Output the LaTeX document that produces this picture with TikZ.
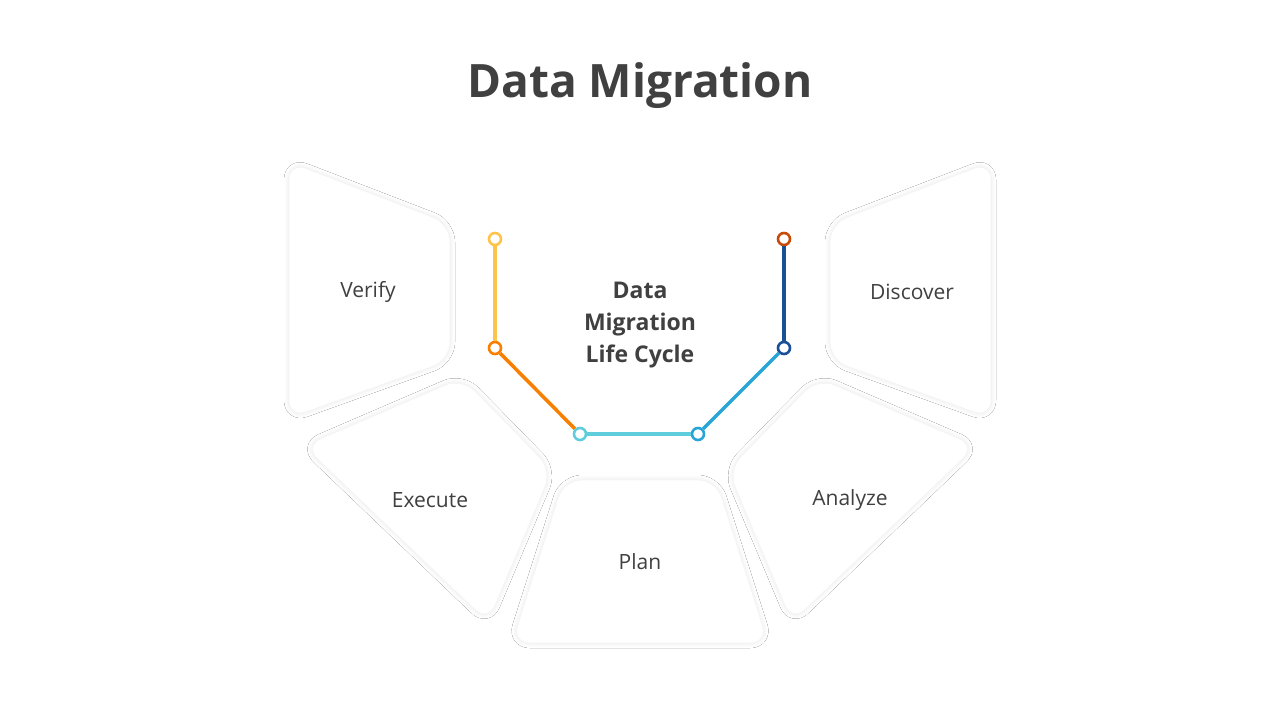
\documentclass[tikz,border=0pt]{standalone}
\usepackage{fontspec}
\setmainfont{Open Sans}
\usetikzlibrary{shadows.blur}
\definecolor{txt}{HTML}{404040}
\tikzset{
 panel/.style={fill=white,draw=black!4,line width=0.6pt,rounded corners=18pt,blur shadow={shadow xshift=0pt,shadow yshift=0pt,shadow blur radius=5pt,shadow blur steps=10,shadow opacity=10}},
 lbl/.style={font=\fontsize{21}{25}\selectfont,text=txt},
 seg/.style={line width=3.5pt},
 dot/.style={circle,fill=white,line width=2.6pt,minimum size=12pt,inner sep=0pt}
}
\begin{document}
\begin{tikzpicture}[x=1pt,y=-1pt]
\useasboundingbox[fill=white] (0,0) rectangle (1280,720);
\node[font=\bfseries\fontsize{46}{54}\selectfont,text=txt] (title) at (640,86) {Data Migration};
% panels
\draw[panel] (289,162) -- (450,224) -- (450,360) -- (289,418) -- cycle;
\draw[panel] (991,162) -- (830,224) -- (830,360) -- (991,418) -- cycle;
\draw[panel] (304,446) -- (462,378) -- (552,470) -- (488,622) -- cycle;
\draw[panel] (976,446) -- (818,378) -- (728,470) -- (792,622) -- cycle;
\draw[panel] (564,480) -- (716,480) -- (768,643) -- (512,643) -- cycle;
\node[lbl] (verify) at (368,292) {Verify};
\node[lbl] (discover) at (912,292) {Discover};
\node[lbl] (execute) at (430,500) {Execute};
\node[lbl] (analyze) at (850,500) {Analyze};
\node[lbl] (plan) at (640,562) {Plan};
\node[font=\bfseries\fontsize{23}{32}\selectfont,text=txt,align=center] (center) at (640,325) {Data\\Migration\\Life Cycle};
% dots
\node[dot,draw={rgb,255:red,255;green,195;blue,75}] (d1) at (495,239) {};
\node[dot,draw={rgb,255:red,248;green,128;blue,0}] (d2) at (495,348) {};
\node[dot,draw={rgb,255:red,95;green,205;blue,220}] (d3) at (580,434) {};
\node[dot,draw={rgb,255:red,40;green,165;blue,215}] (d4) at (698,434) {};
\node[dot,draw={rgb,255:red,25;green,80;blue,150}] (d5) at (784,348) {};
\node[dot,draw={rgb,255:red,200;green,75;blue,10}] (d6) at (784,239) {};
\draw[seg,draw={rgb,255:red,255;green,195;blue,75}] (d1) -- (d2);
\draw[seg,draw={rgb,255:red,248;green,128;blue,0}] (d2) -- (d3);
\draw[seg,draw={rgb,255:red,95;green,205;blue,220}] (d3) -- (d4);
\draw[seg,draw={rgb,255:red,40;green,165;blue,215}] (d4) -- (d5);
\draw[seg,draw={rgb,255:red,25;green,80;blue,150}] (d5) -- (d6);
\end{tikzpicture}
\end{document}
